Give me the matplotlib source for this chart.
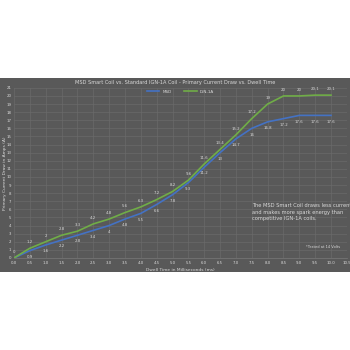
import matplotlib.pyplot as plt
from matplotlib.patches import Rectangle

# dwell time (ms) and primary current (A)
dwell = [0.0, 0.5, 1.0, 1.5, 2.0, 2.5, 3.0, 3.5, 4.0, 4.5, 5.0,
         5.5, 6.0, 6.5, 7.0, 7.5, 8.0, 8.5, 9.0, 9.5, 10.0]
msd = [0, 0.9, 1.6, 2.2, 2.8, 3.4, 4, 4.8, 5.5, 6.6, 7.8,
       9.3, 11.2, 13, 14.7, 16, 16.8, 17.2, 17.6, 17.6, 17.6]
ign = [0, 1.2, 2, 2.8, 3.3, 4.2, 4.8, 5.6, 6.3, 7.2, 8.2,
       9.6, 11.6, 13.4, 15.2, 17.2, 19, 20, 20, 20.1, 20.1]

BG = "#595959"
TXT = "#d9d9d9"
BLUE = "#4472c4"
GREEN = "#70ad47"

fig = plt.figure(figsize=(3.5, 3.5), dpi=100)
fig.patches.append(Rectangle((0, 0.223), 1, 0.554, transform=fig.transFigure,
                             facecolor=BG, edgecolor="none", zorder=-10))

ax = fig.add_axes([0.04, 0.263, 0.951, 0.486])
ax.set_facecolor(BG)
ax.plot(dwell, msd, color=BLUE, lw=1.2, label="MSD")
ax.plot(dwell, ign, color=GREEN, lw=1.2, label="IGN-1A")

for x, y in zip(dwell, ign):
    ax.annotate(f"{y:g}", (x, y), xytext=(0, 3), textcoords="offset points",
                ha="center", va="bottom", fontsize=2.8, color=TXT)
for x, y in zip(dwell[1:], msd[1:]):
    ax.annotate(f"{y:g}", (x, y), xytext=(0, -3), textcoords="offset points",
                ha="center", va="top", fontsize=2.8, color=TXT)

ax.set_xlim(0, 10.5)
ax.set_ylim(0, 21)
ax.set_xticks([i * 0.5 for i in range(22)])
ax.set_xticklabels([f"{i * 0.5:.1f}" for i in range(22)])
ax.set_yticks(range(22))
ax.grid(True, color="#6a6a6a", lw=0.5)
ax.set_axisbelow(True)
ax.tick_params(colors=TXT, labelsize=2.8, length=0, pad=2)
for s in ax.spines.values():
    s.set_visible(False)
ax.spines["bottom"].set_visible(True)
ax.spines["bottom"].set_color("#7a7a7a")
ax.spines["bottom"].set_linewidth(0.5)

ax.set_xlabel("Dwell Time in Milliseconds (ms)", fontsize=3.2, color=TXT, labelpad=2)
ax.set_ylabel("Primary Current Draw in Amps (A)", fontsize=3.2, color=TXT)
ax.yaxis.set_label_coords(-0.022, 0.5)

fig.text(0.5, 0.763, "MSD Smart Coil vs. Standard IGN-1A Coil - Primary Current Draw vs. Dwell Time",
         ha="center", va="center", fontsize=3.6, color=TXT)
leg = ax.legend(loc="upper center", bbox_to_anchor=(0.5, 1.01), ncol=2, frameon=False,
                fontsize=3, handlelength=3, columnspacing=3)
for t in leg.get_texts():
    t.set_color(TXT)

ax.text(0.715, 0.27, "The MSD Smart Coil draws less current\nand makes more spark energy than\ncompetitive IGN-1A coils.",
        transform=ax.transAxes, ha="left", va="center", fontsize=3.7, color=TXT, linespacing=1.35)
ax.text(0.98, 0.065, "*Tested at 14 Volts", transform=ax.transAxes, ha="right", va="center",
        fontsize=2.6, color=TXT)

fig.savefig("out.png", dpi=100, facecolor="white")
